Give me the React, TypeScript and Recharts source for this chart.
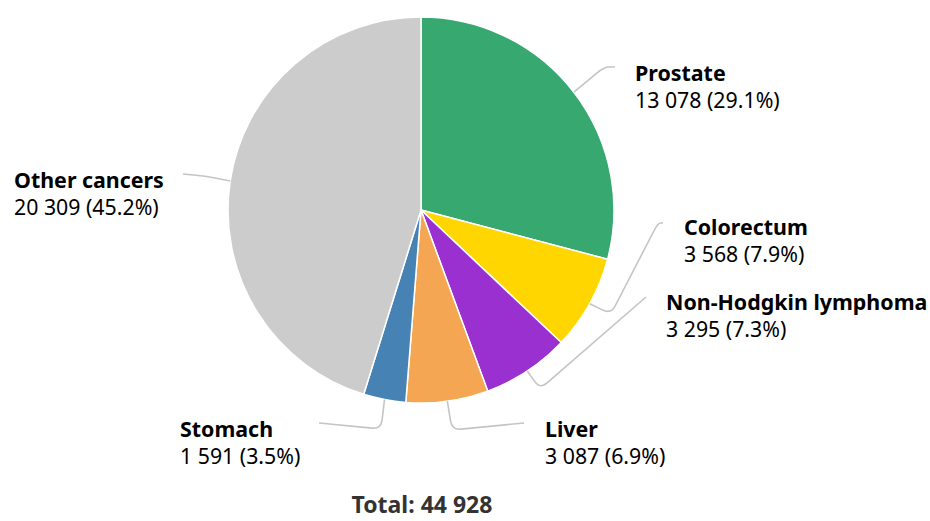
import React from "react";
import { PieChart, Pie, Cell } from "recharts";

const categories = ["Prostate", "Colorectum", "Non-Hodgkin lymphoma", "Liver", "Stomach", "Other cancers"];
const cases = [13078, 3568, 3295, 3087, 1591, 20309];
const shares = ["29.1%", "7.9%", "7.3%", "6.9%", "3.5%", "45.2%"];
const valueLabels = ["13 078", "3 568", "3 295", "3 087", "1 591", "20 309"];
const totalLabel = "Total: 44 928";

const colors = ["#36A870", "#FFD600", "#9B30D0", "#F4A652", "#4682B4", "#CCCCCC"];

const data = categories.map((name, i) => ({ name, value: cases[i] }));

const MARGIN = 5;
const CX = 421 - MARGIN;
const CY = 210 - MARGIN;
const R = 193;

// Label layout (connector corners, end points, text positions)
const layout = [
  { pts: [[604, 67], [615, 67]], tx: 635, ty: 81 },
  { pts: [[611, 314], [658, 223], [663, 223]], tx: 684, ty: 235 },
  { pts: [[540, 389], [646, 297]], tx: 666, ty: 310 },
  { pts: [[452, 430], [524, 423]], tx: 545, ty: 437 },
  { pts: [[381, 429], [319, 423]], tx: 180, ty: 437 },
  { pts: [[205, 176], [183, 174]], tx: 14, ty: 188 },
];

function roundedPath(points: number[][], r: number) {
  let d = `M${points[0][0]},${points[0][1]}`;
  for (let i = 1; i < points.length; i++) {
    const p = points[i];
    if (i === points.length - 1) {
      d += ` L${p[0]},${p[1]}`;
      break;
    }
    const prev = points[i - 1];
    const next = points[i + 1];
    const d1 = Math.hypot(p[0] - prev[0], p[1] - prev[1]);
    const d2 = Math.hypot(next[0] - p[0], next[1] - p[1]);
    const r1 = Math.min(r, d1 / 2);
    const r2 = Math.min(r, d2 / 2);
    const a = [p[0] - ((p[0] - prev[0]) / d1) * r1, p[1] - ((p[1] - prev[1]) / d1) * r1];
    const b = [p[0] + ((next[0] - p[0]) / d2) * r2, p[1] + ((next[1] - p[1]) / d2) * r2];
    d += ` L${a[0]},${a[1]} Q${p[0]},${p[1]} ${b[0]},${b[1]}`;
  }
  return d;
}

const RAD = Math.PI / 180;

const renderLabel = (props: any) => {
  const { cx, cy, midAngle, outerRadius, index } = props;
  const sx = cx + outerRadius * Math.cos(-midAngle * RAD);
  const sy = cy + outerRadius * Math.sin(-midAngle * RAD);
  const L = layout[index];
  const pts = [[sx, sy], ...L.pts];
  return (
    <g key={`lbl-${index}`}>
      <path d={roundedPath(pts, 9)} stroke="#c4c4c4" strokeWidth={1.6} fill="none" />
      <text x={L.tx} y={L.ty} fontSize={21.4} fontWeight="bold" fill="#000" fontFamily="'Noto Sans', sans-serif">
        {categories[index]}
      </text>
      <text x={L.tx} y={L.ty + 27} fontSize={21.3} fill="#000" fontFamily="'Noto Sans', sans-serif">
        {`${valueLabels[index]} (${shares[index]})`}
      </text>
    </g>
  );
};

export default function App() {
  return (
    <div style={{ position: "absolute", left: 0, top: 0, width: 930, height: 521, background: "#fff" }}>
      <PieChart width={930} height={521} margin={{ top: MARGIN, right: MARGIN, bottom: MARGIN, left: MARGIN }}>
        <Pie
          data={data}
          dataKey="value"
          nameKey="name"
          cx={CX}
          cy={CY}
          outerRadius={R}
          startAngle={90}
          endAngle={-270}
          stroke="#fff"
          strokeWidth={1.5}
          isAnimationActive={false}
          label={renderLabel}
          labelLine={false}
        >
          {data.map((d, i) => (
            <Cell key={d.name} fill={colors[i]} />
          ))}
        </Pie>
        <text x={422} y={513} textAnchor="middle" fontSize={23} fontWeight="bold" fill="#333" fontFamily="'Noto Sans', sans-serif">
          {totalLabel}
        </text>
      </PieChart>
    </div>
  );
}
